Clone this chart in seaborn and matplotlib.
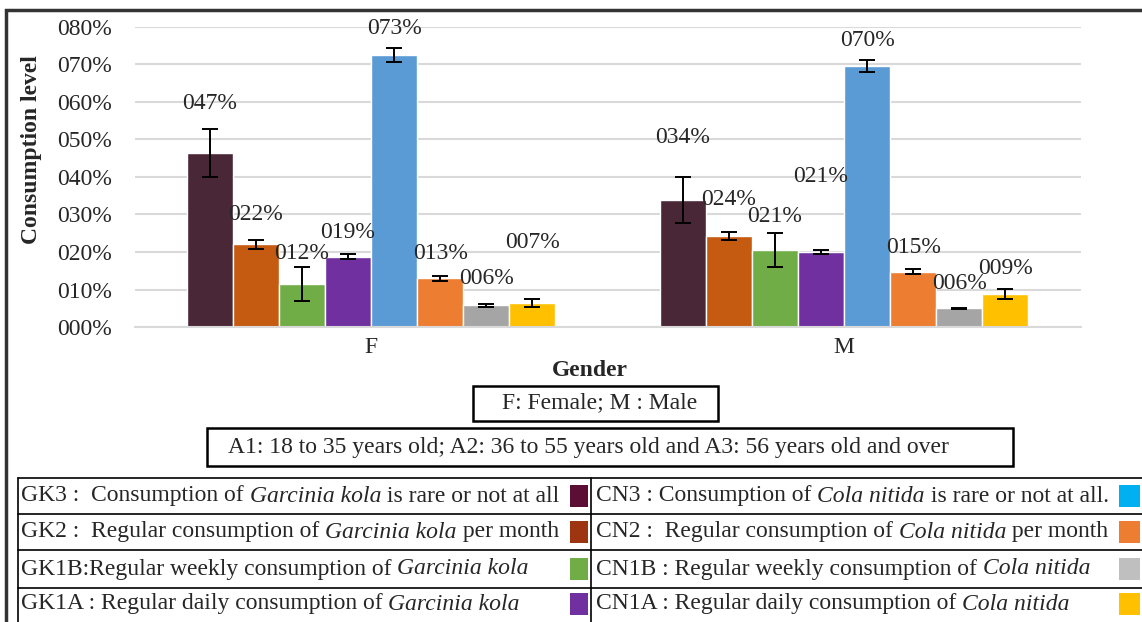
import numpy as np
import pandas as pd
import seaborn as sns
import matplotlib.pyplot as plt
from matplotlib.patches import Rectangle
from matplotlib.lines import Line2D

# donnees
genders = ['F', 'M']
groups = ['GK3', 'GK2', 'GK1B', 'GK1A', 'CN3', 'CN2', 'CN1B', 'CN1A']
val_F = [0.465, 0.220, 0.115, 0.188, 0.725, 0.130, 0.058, 0.065]
val_M = [0.338, 0.242, 0.205, 0.200, 0.695, 0.148, 0.050, 0.088]
err_F = [0.064, 0.012, 0.045, 0.007, 0.019, 0.007, 0.004, 0.011]
err_M = [0.061, 0.011, 0.045, 0.005, 0.016, 0.007, 0.002, 0.013]
lab_F = ['047%', '022%', '012%', '019%', '073%', '013%', '006%', '007%']
lab_M = ['034%', '024%', '021%', '021%', '070%', '015%', '006%', '009%']
laby_F = [0.597, 0.299, 0.195, 0.253, 0.795, 0.197, 0.128, 0.224]
laby_M = [0.504, 0.339, 0.296, 0.400, 0.765, 0.213, 0.117, 0.157]
bar_colors = ['#4A2737', '#C55A11', '#70AD47', '#7030A0', '#5B9BD5', '#ED7D31', '#A5A5A5', '#FFC000']
key_colors = ['#5C0F35', '#9C3510', '#70AD47', '#7030A0', '#00B0F0', '#ED7D31', '#BFBFBF', '#FFC000']

gk_text = [('GK3 :  Consumption of ', 'Garcinia kola', ' is rare or not at all'),
           ('GK2 :  Regular consumption of ', 'Garcinia kola', ' per month'),
           ('GK1B:Regular weekly consumption of ', 'Garcinia kola', ''),
           ('GK1A : Regular daily consumption of ', 'Garcinia kola', '')]
cn_text = [('CN3 : Consumption of ', 'Cola nitida', ' is rare or not at all.'),
           ('CN2 :  Regular consumption of ', 'Cola nitida', ' per month'),
           ('CN1B : Regular weekly consumption of ', 'Cola nitida', ''),
           ('CN1A : Regular daily consumption of ', 'Cola nitida', '')]

df = pd.DataFrame({'Gender': np.repeat(genders, len(groups)),
                   'Group': groups * 2,
                   'Value': val_F + val_M})

W, H = 1142, 622
def fx(p):
    return p / W
def fy(p):
    return 1 - p / H

sns.set_style('white')
plt.rcParams['font.family'] = ['Liberation Serif', 'DejaVu Serif']

fig = plt.figure(figsize=(11.42, 6.22), dpi=100)
ax = fig.add_axes([fx(134.5), fy(327), fx(946), 300 / H])

sns.barplot(data=df, x='Gender', y='Value', hue='Group', hue_order=groups,
            palette=bar_colors, width=0.78, errorbar=None, saturation=1,
            legend=False, ax=ax)

errs = [err_F, err_M]
labs = [lab_F, lab_M]
labys = [laby_F, laby_M]
bar_groups = list(ax.containers)
for i, cont in enumerate(bar_groups):
    for j, bar in enumerate(cont):
        xc = bar.get_x() + bar.get_width() / 2
        h = bar.get_height()
        ax.errorbar(xc, h, yerr=errs[j][i], color='black', lw=1.4, capsize=6, capthick=1.4)
        ax.text(xc, labys[j][i], labs[j][i], ha='center', va='center', fontsize=17, color='#262626')

ax.set_ylim(0, 0.8)
ax.set_xlim(-0.5, 1.5)
ax.set_yticks(np.arange(0, 0.81, 0.1))
ax.set_yticklabels(['{:03.0f}%'.format(v * 100) for v in np.arange(0, 0.81, 0.1)], fontsize=17, color='#262626')
ax.set_xticks([0, 1])
ax.set_xticklabels(genders, fontsize=17)
ax.tick_params(axis='y', length=0, pad=16)
ax.tick_params(axis='x', length=0, pad=7)
ax.yaxis.grid(True, color='#D9D9D9', lw=1.5)
ax.set_axisbelow(True)
for s in ['left', 'right', 'top']:
    ax.spines[s].set_visible(False)
ax.spines['bottom'].set_color('#D9D9D9')
ax.spines['bottom'].set_linewidth(1.5)
ax.set_xlabel('')
ax.set_ylabel('')

fig.text(fx(32), fy(150), 'Consumption level', rotation=90, ha='center', va='center',
         fontsize=17, fontweight='bold')
fig.text(fx(590), fy(370), 'Gender', ha='center', va='center', fontsize=17, fontweight='bold')

# cadre exterieur
fig.add_artist(Rectangle((fx(6), fy(700)), fx(1200), 690 / H, transform=fig.transFigure,
                         fill=False, ec='#333333', lw=2.5))

# boites de texte
fig.add_artist(Rectangle((fx(473), fy(421)), fx(245), 35 / H, transform=fig.transFigure,
                         fill=False, ec='black', lw=1.8))
fig.text(fx(600), fy(403), 'F: Female; M : Male', ha='center', va='center', fontsize=17)
fig.add_artist(Rectangle((fx(207), fy(466)), fx(806), 38 / H, transform=fig.transFigure,
                         fill=False, ec='black', lw=1.8))
fig.text(fx(228), fy(447), 'A1: 18 to 35 years old; A2: 36 to 55 years old and A3: 56 years old and over',
         ha='left', va='center', fontsize=17)

# tableau de legende
rows = [478, 514, 550, 588, 640]
for r in rows:
    fig.add_artist(Line2D([fx(18), fx(1160)], [fy(r), fy(r)], transform=fig.transFigure, color='black', lw=1.2))
for c in [18, 591]:
    fig.add_artist(Line2D([fx(c), fx(c)], [fy(478), fy(640)], transform=fig.transFigure, color='black', lw=1.2))

def rich_text(x, y, parts):
    t = fig.text(x, y, parts[0], ha='left', va='center', fontsize=17)
    t = ax.annotate(parts[1], xycoords=t, xy=(1, 0), va='bottom', fontsize=17, style='italic',
                    annotation_clip=False)
    ax.annotate(parts[2], xycoords=t, xy=(1, 0), va='bottom', fontsize=17, annotation_clip=False)

for k in range(4):
    yc = (rows[k] + rows[k + 1]) / 2 if k < 3 else 604
    rich_text(fx(21), fy(yc), gk_text[k])
    rich_text(fx(596), fy(yc), cn_text[k])
    fig.add_artist(Rectangle((fx(570), fy(yc + 11)), fx(18), 22 / H, transform=fig.transFigure,
                             color=key_colors[k], lw=0))
    fig.add_artist(Rectangle((fx(1119), fy(yc + 11)), fx(21), 22 / H, transform=fig.transFigure,
                             color=key_colors[k + 4], lw=0))

fig.savefig('out.png', dpi=100)
